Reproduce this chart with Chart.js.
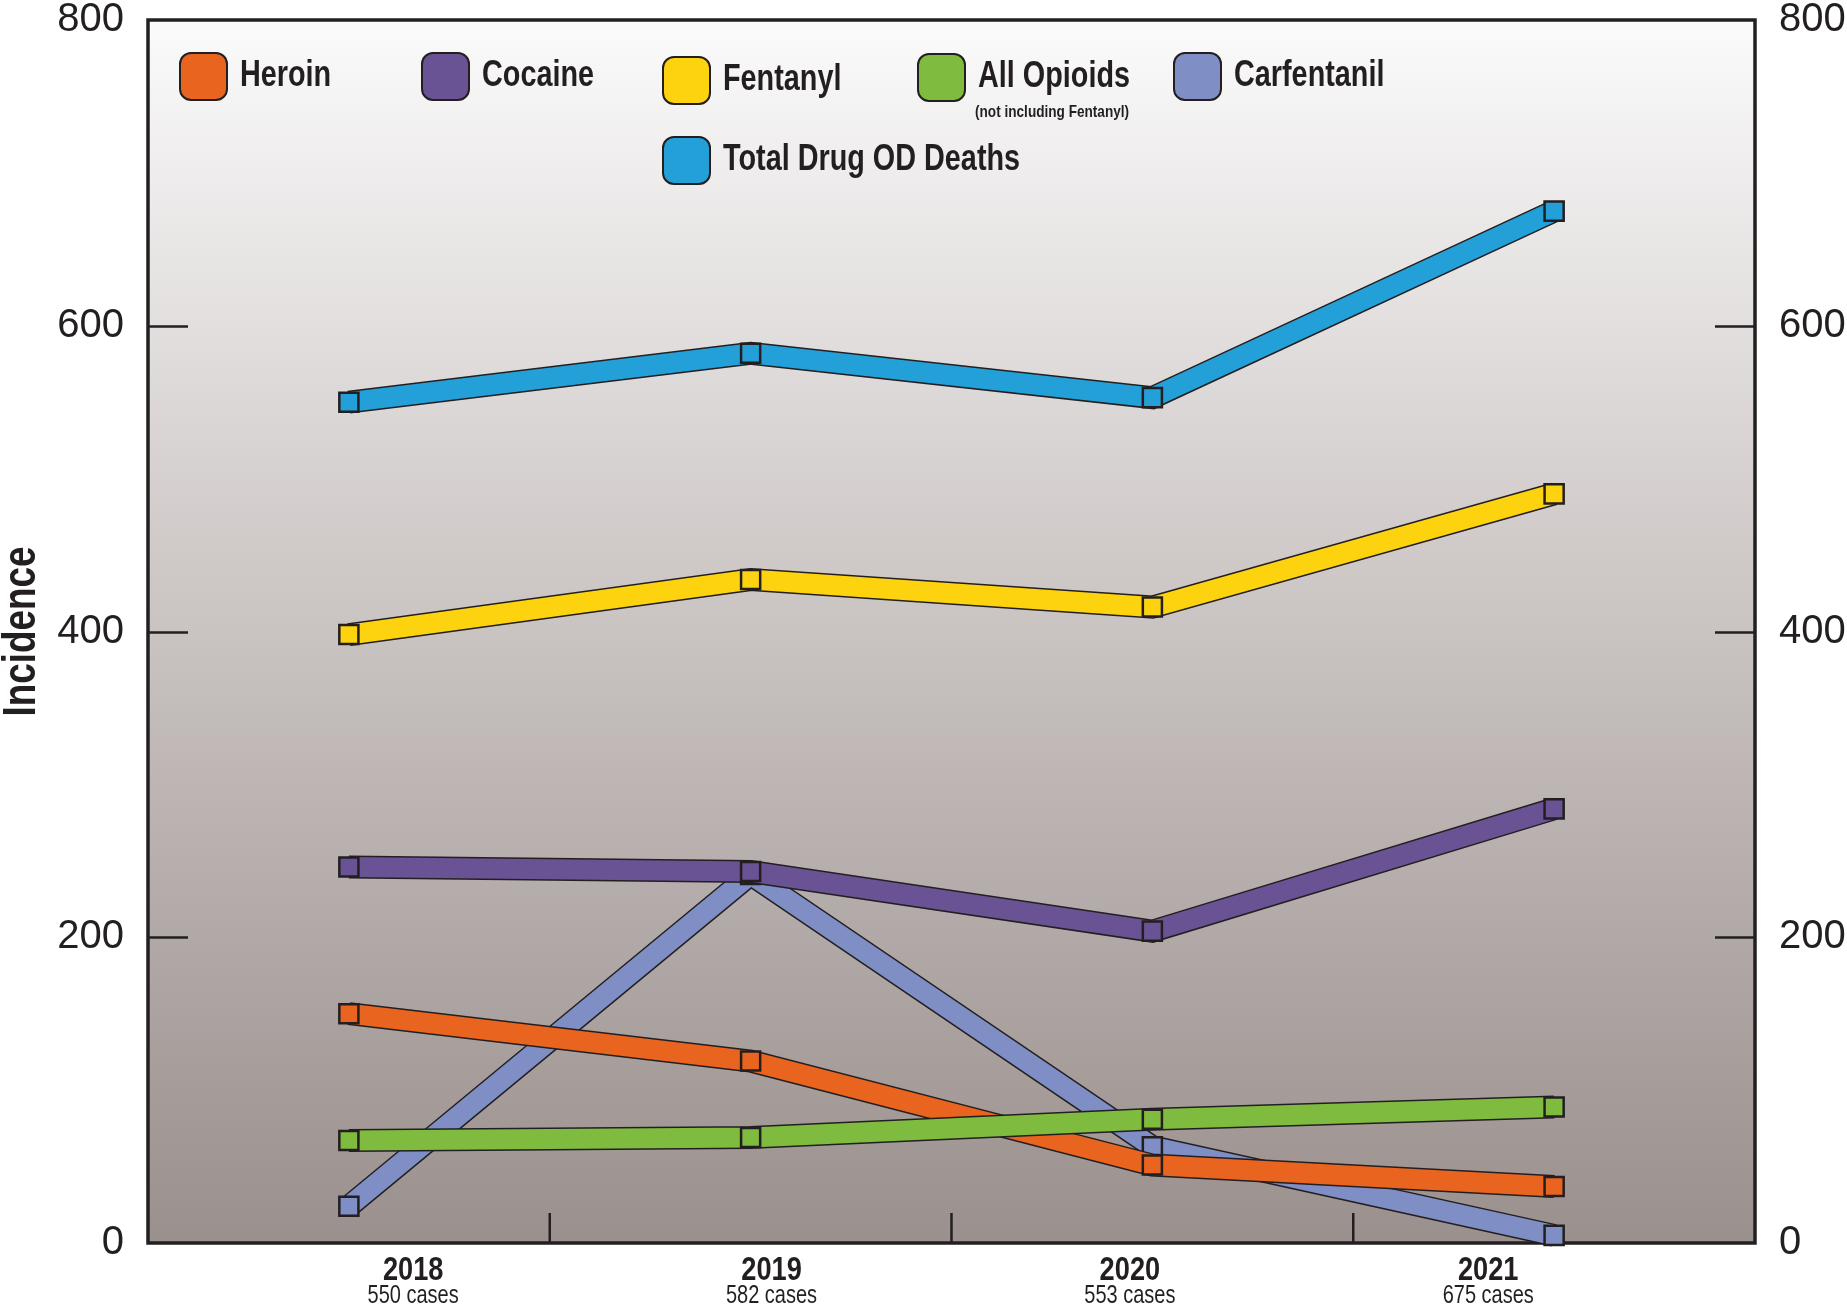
<!DOCTYPE html>
<html>
<head>
<meta charset="utf-8">
<title>Drug OD deaths</title>
<script src="https://cdn.jsdelivr.net/npm/chart.js@4.4.1/dist/chart.umd.min.js"></script>
<style>
    html, body { margin: 0; padding: 0; background: #fff; }
    #wrap { width: 1847px; height: 1306px; position: relative; }
</style>
</head>
<body>
<div id="wrap"><canvas id="odChart" width="1847" height="1306"></canvas></div>
<script>
// Données
const years = ['2018', '2019', '2020', '2021'];
const caseLabels = ['550 cases', '582 cases', '553 cases', '675 cases'];
const totalDeaths = [550, 582, 553, 675];
const fentanyl = [398, 434, 416, 490];
const cocaine = [246, 243, 204, 284];
const allOpioids = [67, 69, 81, 89];
const heroin = [150, 119, 51, 37];
const carfentanil = [24, 241, 63, 5];
const yMin = 0;
const yMax = 800;
const yStep = 200;

const colors = {
    heroin: '#e8641f',
    cocaine: '#6a5394',
    fentanyl: '#fdd20f',
    opioids: '#7ebb3f',
    carfentanil: '#7f8ec4',
    total: '#24a0d8',
    ink: '#231f20'
};

const SANS = "'Liberation Sans', Arial, sans-serif";
const NARROW_X = 0.8; // compression horizontale pour imiter une police condensée

function series(label, data, color) {
    return {
        label: label,
        data: data,
        borderColor: color,
        backgroundColor: color,
        borderWidth: 20,
        borderJoinStyle: 'miter',
        borderCapStyle: 'butt',
        tension: 0,
        pointStyle: 'rect',
        pointRadius: 13.5,
        pointBackgroundColor: color,
        pointBorderColor: colors.ink,
        pointBorderWidth: 2.5,
        clip: false
    };
}

// Texte condensé (Liberation Sans compressée en largeur)
function narrowText(ctx, text, x, y, font, align) {
    ctx.save();
    ctx.translate(x, y);
    ctx.scale(NARROW_X, 1);
    ctx.font = font;
    ctx.textAlign = align || 'left';
    ctx.textBaseline = 'middle';
    ctx.fillText(text, 0, 0);
    ctx.restore();
}

// Fond dégradé de la zone de tracé
const backgroundPlugin = {
    id: 'plotBackground',
    beforeDraw(chart) {
        const { ctx, chartArea: a } = chart;
        const g = ctx.createLinearGradient(0, a.top, 0, a.bottom);
        g.addColorStop(0, '#fbfbfb');
        g.addColorStop(0.3, '#ddd9d8');
        g.addColorStop(0.6, '#bfb8b6');
        g.addColorStop(1, '#9a908e');
        ctx.save();
        ctx.fillStyle = g;
        ctx.fillRect(a.left, a.top, a.right - a.left, a.bottom - a.top);
        ctx.restore();
    }
};

// Cadre + graduations intérieures
const framePlugin = {
    id: 'frame',
    beforeDatasetsDraw(chart) {
        const { ctx, chartArea: a, scales } = chart;
        ctx.save();
        ctx.strokeStyle = colors.ink;
        ctx.lineWidth = 2.5;
        ctx.beginPath();
        for (let v = yMin + yStep; v < yMax; v += yStep) {
            const y = Math.round(scales.y.getPixelForValue(v)) + 0.5;
            ctx.moveTo(a.left, y);
            ctx.lineTo(a.left + 40, y);
            ctx.moveTo(a.right - 40, y);
            ctx.lineTo(a.right, y);
        }
        for (let i = 1; i < years.length; i++) {
            const x = (scales.x.getPixelForValue(i - 1) + scales.x.getPixelForValue(i)) / 2;
            ctx.moveTo(x, a.bottom);
            ctx.lineTo(x, a.bottom - 30);
        }
        ctx.stroke();
        ctx.lineWidth = 3.5;
        ctx.strokeRect(a.left, a.top, a.right - a.left, a.bottom - a.top);
        ctx.restore();
    }
};

// Contour noir des rubans
const outlinePlugin = {
    id: 'ribbonOutline',
    beforeDatasetDraw(chart, args) {
        const pts = args.meta.data;
        if (!pts.length) return;
        const ctx = chart.ctx;
        ctx.save();
        ctx.strokeStyle = colors.ink;
        ctx.lineWidth = 23;
        ctx.lineJoin = 'miter';
        ctx.lineCap = 'butt';
        ctx.beginPath();
        ctx.moveTo(pts[0].x, pts[0].y);
        for (let i = 1; i < pts.length; i++) ctx.lineTo(pts[i].x, pts[i].y);
        ctx.stroke();
        ctx.restore();
    }
};

// Libellés de l'axe X (année + nombre de cas) et titre de l'axe Y
const axisTextPlugin = {
    id: 'axisText',
    afterDraw(chart) {
        const { ctx, chartArea: a } = chart;
        const w = a.right - a.left;
        ctx.save();
        ctx.fillStyle = colors.ink;
        years.forEach((yr, i) => {
            const x = a.left + w * (0.165 + i * 0.223);
            narrowText(ctx, yr, x, a.bottom + 28, 'bold 34px ' + SANS, 'center');
            narrowText(ctx, caseLabels[i], x, a.bottom + 53, '25px ' + SANS, 'center');
        });
        // titre vertical
        ctx.save();
        ctx.translate(22, (a.top + a.bottom) / 2);
        ctx.rotate(-Math.PI / 2);
        narrowText(ctx, 'Incidence', 0, 0, 'bold 46px ' + SANS, 'center');
        ctx.restore();
        ctx.restore();
    }
};

// Légende dans la zone de tracé
const legendItems = [
    { text: 'Heroin', color: colors.heroin, x: 180, y: 53 },
    { text: 'Cocaine', color: colors.cocaine, x: 422, y: 53 },
    { text: 'Fentanyl', color: colors.fentanyl, x: 663, y: 57 },
    { text: 'All Opioids', color: colors.opioids, x: 918, y: 54, sub: '(not including Fentanyl)' },
    { text: 'Carfentanil', color: colors.carfentanil, x: 1174, y: 53 },
    { text: 'Total Drug OD Deaths', color: colors.total, x: 663, y: 137 }
];

const customLegendPlugin = {
    id: 'customLegend',
    afterDraw(chart) {
        const ctx = chart.ctx;
        ctx.save();
        legendItems.forEach(item => {
            ctx.beginPath();
            ctx.roundRect(item.x, item.y, 47, 47, 11);
            ctx.fillStyle = item.color;
            ctx.fill();
            ctx.lineWidth = 2;
            ctx.strokeStyle = colors.ink;
            ctx.stroke();
            ctx.fillStyle = colors.ink;
            narrowText(ctx, item.text, item.x + 60, item.y + 23, 'bold 36px ' + SANS);
            if (item.sub) {
                narrowText(ctx, item.sub, item.x + 57, item.y + 58, 'bold 17px ' + SANS);
            }
        });
        ctx.restore();
    }
};

// Pas de marge automatique autour des étiquettes de l'axe Y
function fixVertical(width) {
    return function(scale) {
        scale.width = width;
        scale.paddingTop = 0;
        scale.paddingBottom = 0;
    };
}

const ctx = document.getElementById('odChart').getContext('2d');
new Chart(ctx, {
    type: 'line',
    data: {
        labels: years,
        datasets: [
            series('Total Drug OD Deaths', totalDeaths, colors.total),
            series('Fentanyl', fentanyl, colors.fentanyl),
            series('Cocaine', cocaine, colors.cocaine),
            series('All Opioids', allOpioids, colors.opioids),
            series('Heroin', heroin, colors.heroin),
            series('Carfentanil', carfentanil, colors.carfentanil)
        ]
    },
    options: {
        responsive: false,
        animation: false,
        devicePixelRatio: 1,
        layout: { padding: { top: 20, left: 0, right: 0, bottom: 0 } },
        plugins: {
            legend: { display: false },
            tooltip: { enabled: false }
        },
        scales: {
            x: {
                type: 'category',
                offset: true,
                grid: { display: false },
                border: { display: false },
                ticks: { display: false },
                afterFit(scale) { scale.height = 63; }
            },
            y: {
                position: 'left',
                min: yMin,
                max: yMax,
                grid: { display: false, drawTicks: false },
                border: { display: false },
                ticks: {
                    stepSize: yStep,
                    padding: 24,
                    color: colors.ink,
                    font: { family: SANS, size: 40 }
                },
                afterFit: fixVertical(148)
            },
            y2: {
                position: 'right',
                min: yMin,
                max: yMax,
                grid: { display: false, drawTicks: false },
                border: { display: false },
                ticks: {
                    stepSize: yStep,
                    padding: 24,
                    color: colors.ink,
                    font: { family: SANS, size: 40 }
                },
                afterFit: fixVertical(92)
            }
        }
    },
    plugins: [backgroundPlugin, framePlugin, outlinePlugin, axisTextPlugin, customLegendPlugin]
});
</script>
</body>
</html>
